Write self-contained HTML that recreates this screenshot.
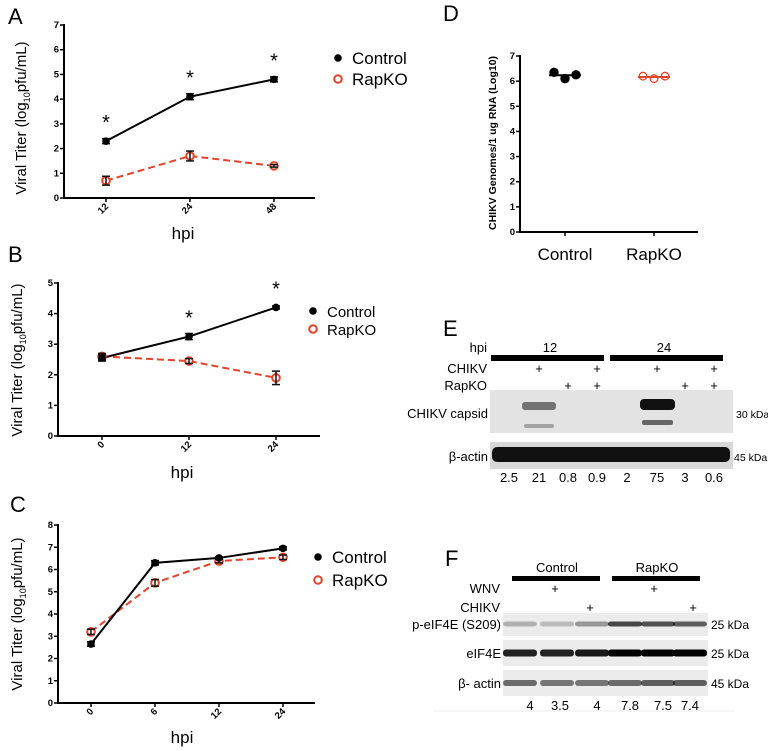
<!DOCTYPE html>
<html><head><meta charset="utf-8"><style>
body{margin:0;background:#fff}
svg{display:block;font-family:"Liberation Sans",sans-serif}
.tk{font-size:9.5px;font-weight:bold}
</style></head><body>
<svg id="fig" width="768" height="751" viewBox="0 0 768 751">
<g font-size="22">
<text x="8" y="24">A</text>
<text x="8" y="262">B</text>
<text x="10" y="512">C</text>
<text x="443" y="21">D</text>
<text x="443" y="336">E</text>
<text x="445" y="566">F</text>
</g>
<g id="charts"></g>

<!-- Panel E -->
<g font-size="13">
<text x="487" y="352" text-anchor="end">hpi</text>
<text x="550" y="352" text-anchor="middle">12</text>
<text x="664" y="352" text-anchor="middle">24</text>
<rect x="491" y="355" width="113" height="6" fill="#000"/>
<rect x="610" y="355" width="113" height="6" fill="#000"/>
<text x="487" y="373" text-anchor="end">CHIKV</text>
<text x="487" y="390" text-anchor="end">RapKO</text>
<g font-size="13" text-anchor="middle">
<text x="539" y="373">+</text><text x="597" y="373">+</text><text x="657" y="373">+</text><text x="714" y="373">+</text>
<text x="568" y="390">+</text><text x="597" y="390">+</text><text x="685" y="390">+</text><text x="714" y="390">+</text>
</g>
<rect x="490" y="390" width="243" height="43" fill="#e3e3e3"/>
<rect x="522" y="402" width="34" height="8" rx="3" fill="#555" opacity="0.8"/>
<rect x="524" y="424" width="30" height="4" rx="2" fill="#888" opacity="0.7"/>
<rect x="640" y="399" width="35" height="11" rx="4" fill="#111"/>
<rect x="642" y="420" width="31" height="5" rx="2" fill="#666"/>
<text x="488" y="418" text-anchor="end">CHIKV capsid</text>
<text x="736" y="418" font-size="10.5">30 kDa</text>
<rect x="490" y="442" width="243" height="27" fill="#d8d8d8"/>
<g fill="#111"><rect x="492" y="447" width="238" height="15" rx="5"/></g>
<text x="488" y="461" text-anchor="end">β-actin</text>
<text x="734" y="461" font-size="10.5">45 kDa</text>
<g text-anchor="middle">
<text x="509" y="482">2.5</text><text x="539" y="482">21</text><text x="568" y="482">0.8</text><text x="597" y="482">0.9</text>
<text x="627" y="482">2</text><text x="657" y="482">75</text><text x="685" y="482">3</text><text x="714" y="482">0.6</text>
</g>
</g>

<!-- Panel F -->
<g font-size="13">
<text x="557" y="572" text-anchor="middle">Control</text>
<text x="657" y="572" text-anchor="middle">RapKO</text>
<rect x="512" y="576" width="88" height="5" fill="#000"/>
<rect x="612" y="576" width="88" height="5" fill="#000"/>
<text x="500" y="593" text-anchor="end">WNV</text>
<text x="500" y="612" text-anchor="end">CHIKV</text>
<g text-anchor="middle"><text x="555" y="593">+</text><text x="654" y="593">+</text><text x="590" y="612">+</text><text x="693" y="612">+</text></g>
<rect x="503" y="613" width="205" height="23" fill="#ececec"/>
<rect x="503" y="640" width="205" height="26" fill="#ececec"/>
<rect x="503" y="670" width="205" height="26" fill="#ececec"/>
<g id="fbands"></g>
<text x="501" y="629" text-anchor="end">p-eIF4E (S209)</text>
<text x="501" y="658" text-anchor="end">eIF4E</text>
<text x="501" y="688" text-anchor="end">β- actin</text>
<text x="711" y="629" font-size="12">25 kDa</text>
<text x="711" y="658" font-size="12">25 kDa</text>
<text x="711" y="688" font-size="12">45 kDa</text>
<g text-anchor="middle">
<text x="530" y="710">4</text><text x="560" y="710">3.5</text><text x="597" y="710">4</text>
<text x="630" y="710">7.8</text><text x="663" y="710">7.5</text><text x="690" y="710">7.4</text>
</g>
<line x1="433" y1="711" x2="735" y2="711" stroke="#eee"/>
</g>
</svg>
<script>
const NS="http://www.w3.org/2000/svg";
const RED="#e3432b";
function mk(p,t,a){const e=document.createElementNS(NS,t);for(const k in a)e.setAttribute(k,a[k]);p.appendChild(e);return e;}
const root=document.getElementById('charts');

// Panel A data
const aCats=["12","24","48"];
const aCtrl=[2.3,4.1,4.8];
const aCtrlErr=[0.1,0.12,0.1];
const aKO=[0.7,1.7,1.3];
const aKOErr=[0.18,0.2,0.05];
const aTicks=[0,1,2,3,4,5,6,7];
const aStars=[true,true,true];
// Panel B data
const bCats=["0","12","24"];
const bCtrl=[2.55,3.25,4.2];
const bCtrlErr=[0.1,0.1,0.05];
const bKO=[2.6,2.45,1.9];
const bKOErr=[0.1,0.08,0.22];
const bTicks=[0,1,2,3,4,5];
const bStars=[false,true,true];
// Panel C data
const cCats=["0","6","12","24"];
const cCtrl=[2.65,6.3,6.52,6.95];
const cCtrlErr=[0.1,0.1,0.05,0.07];
const cKO=[3.2,5.4,6.38,6.55];
const cKOErr=[0.12,0.15,0.08,0.1];
const cTicks=[0,1,2,3,4,5,6,7,8];
const cStars=[false,false,false,false];
// Panel D data
const dCats=["Control","RapKO"];
const dCtrl=[6.35,6.1,6.25];
const dKO=[6.2,6.1,6.2];
const dTicks=[0,1,2,3,4,5,6,7];

function lineChart(o){
  const g=mk(root,'g',{});
  
  
  const ymax=o.ticks[o.ticks.length-1];
  const Y=v=>o.y0-(o.y0-o.yTop)*v/ymax;
  const X=i=>o.xs[0]+i*o.dx;
  mk(g,'line',{x1:o.ax,y1:o.yTop-1,x2:o.ax,y2:o.y0,stroke:'#000','stroke-width':2});
  mk(g,'line',{x1:o.ax-1,y1:o.y0,x2:o.axEnd,y2:o.y0,stroke:'#000','stroke-width':2});
  o.ticks.forEach(t=>{
    mk(g,'line',{x1:o.ax-4,y1:Y(t),x2:o.ax,y2:Y(t),stroke:'#000','stroke-width':1.5});
    const tx=mk(g,'text',{x:o.ax-5,y:Y(t)+3,'text-anchor':'end',class:'tk'});tx.textContent=t;
    
    
  });
  o.cats.forEach((c,i)=>{
    mk(g,'line',{x1:X(i),y1:o.y0,x2:X(i),y2:o.y0+4,stroke:'#000','stroke-width':1.5});
    const tx=mk(g,'text',{x:0,y:0,class:'tk','text-anchor':'end',transform:`translate(${X(i)+3},${o.y0+9}) rotate(-45)`});tx.textContent=c;
    
    
  });
  const xl=mk(g,'text',{x:o.hpiX,y:o.hpiY,'font-size':17,'text-anchor':'middle'});xl.textContent='hpi';
  
  
  const yl=mk(g,'text',{x:0,y:0,'font-size':15,'text-anchor':'middle',transform:`translate(${o.ylX},${o.ylY}) rotate(-90)`});
  yl.innerHTML='Viral Titer (log<tspan font-size="9" dy="4">10</tspan><tspan dy="-4">pfu/mL)</tspan>';
  
  
  const pk=mk(g,'polyline',{points:o.ko.map((v,i)=>X(i)+','+Y(v)).join(' '),fill:'none',stroke:RED,'stroke-width':2,'stroke-dasharray':'7,4'});
  
  
  const pc=mk(g,'polyline',{points:o.ctrl.map((v,i)=>X(i)+','+Y(v)).join(' '),fill:'none',stroke:'#000','stroke-width':2});
  
  
  const eb=(x,v,e,col)=>{const s=(o.y0-o.yTop)/ymax*e;
    mk(g,'line',{x1:x,y1:Y(v)-s,x2:x,y2:Y(v)+s,stroke:col,'stroke-width':1.5});
    mk(g,'line',{x1:x-4,y1:Y(v)-s,x2:x+4,y2:Y(v)-s,stroke:col,'stroke-width':1.5});
    mk(g,'line',{x1:x-4,y1:Y(v)+s,x2:x+4,y2:Y(v)+s,stroke:col,'stroke-width':1.5});};
  o.ko.forEach((v,i)=>{const c=mk(g,'circle',{cx:X(i),cy:Y(v),r:3.8,fill:'#fff',stroke:RED,'stroke-width':2});
    
    
    eb(X(i),v,o.koErr[i],'#111');});
  o.ctrl.forEach((v,i)=>{const c=mk(g,'circle',{cx:X(i),cy:Y(v),r:3.8,fill:'#000'});
    
    
    eb(X(i),v,o.ctrlErr[i],'#000');
    if(o.stars[i]){const s=mk(g,'text',{x:X(i),y:Y(v)-12,'font-size':20,'text-anchor':'middle'});s.textContent='*';
      
      }});
  const lg=mk(g,'g',{});
  
  
  mk(lg,'circle',{cx:o.lx,cy:o.ly,r:3.8,fill:'#000'});
  const t1=mk(lg,'text',{x:o.lx+14,y:o.ly+6,'font-size':o.lfs});t1.textContent='Control';
  
  
  mk(lg,'circle',{cx:o.lx,cy:o.ly+o.lgap,r:3.8,fill:'#fff',stroke:RED,'stroke-width':2});
  const t2=mk(lg,'text',{x:o.lx+14,y:o.ly+o.lgap+6,'font-size':o.lfs});t2.textContent='RapKO';
  
  
}
lineChart({name:'chart-a',cats:aCats,ctrl:aCtrl,ctrlErr:aCtrlErr,ko:aKO,koErr:aKOErr,ticks:aTicks,stars:aStars,
  ax:64,axEnd:315,yTop:25,y0:198,xs:[106],dx:84,hpiX:183,hpiY:239,ylX:26,ylY:118,lx:338,ly:58,lgap:21,lfs:17});
lineChart({name:'chart-b',cats:bCats,ctrl:bCtrl,ctrlErr:bCtrlErr,ko:bKO,koErr:bKOErr,ticks:bTicks,stars:bStars,
  ax:58,axEnd:320,yTop:283,y0:436,xs:[102],dx:87,hpiX:182,hpiY:478,ylX:22,ylY:360,lx:313,ly:311,lgap:18,lfs:15});
lineChart({name:'chart-c',cats:cCats,ctrl:cCtrl,ctrlErr:cCtrlErr,ko:cKO,koErr:cKOErr,ticks:cTicks,stars:cStars,
  ax:58,axEnd:315,yTop:525,y0:703,xs:[91],dx:64,hpiX:182,hpiY:743,ylX:22,ylY:614,lx:318,ly:557,lgap:23,lfs:17});

(function(){
  const g=mk(root,'g',{});
  
  
  const ax=520,yTop=56,y0=232,axEnd=698,xs=[565,654];
  const Y=v=>y0-(y0-yTop)*v/7;
  mk(g,'line',{x1:ax,y1:yTop-1,x2:ax,y2:y0,stroke:'#000','stroke-width':2});
  mk(g,'line',{x1:ax-1,y1:y0,x2:axEnd,y2:y0,stroke:'#000','stroke-width':2});
  dTicks.forEach(t=>{mk(g,'line',{x1:ax-4,y1:Y(t),x2:ax,y2:Y(t),stroke:'#000','stroke-width':1.5});
    const tx=mk(g,'text',{x:ax-5,y:Y(t)+3,'text-anchor':'end',class:'tk'});tx.textContent=t;
    
    });
  dCats.forEach((c,i)=>{mk(g,'line',{x1:xs[i],y1:y0,x2:xs[i],y2:y0+4,stroke:'#000','stroke-width':1.5});
    const tx=mk(g,'text',{x:xs[i],y:y0+28,'font-size':17,'text-anchor':'middle'});tx.textContent=c;
    
    });
  const yl=mk(g,'text',{x:0,y:0,'font-size':10.5,'font-weight':'bold','text-anchor':'middle',transform:'translate(496,143) rotate(-90)'});
  yl.textContent='CHIKV Genomes/1 ug RNA (Log10)';
  
  
  const sets=[dCtrl,dKO];
  sets.forEach((arr,si)=>{const m=arr.reduce((a,b)=>a+b,0)/arr.length;
    mk(g,'line',{x1:xs[si]-16,y1:Y(m),x2:xs[si]+16,y2:Y(m),stroke:si?RED:'#000','stroke-width':2});
    arr.forEach((v,j)=>{const c=mk(g,'circle',{cx:xs[si]-11+j*11,cy:Y(v),r:si?3.8:4.2,fill:si?'none':'#000',stroke:si?RED:'#000','stroke-width':si?1.3:1});
      
      });});
})();

const fLanes=[520,557,592,625,658,690];
const fP=[0.25,0.2,0.35,0.7,0.65,0.6];
const fE=[0.85,0.85,0.9,1,1,1];
const fA=[0.55,0.5,0.5,0.55,0.6,0.6];
(function(){const g=document.getElementById('fbands');
  const rows=[[fP,624,5],[fE,653,7],[fA,683,6]];
  rows.forEach(r=>r[0].forEach((v,i)=>{const b=mk(g,'rect',{x:fLanes[i]-17,y:r[1]-r[2]/2,width:34,height:r[2],rx:3,fill:'#000',opacity:v});
    
    }));})();
</script>
</body></html>
